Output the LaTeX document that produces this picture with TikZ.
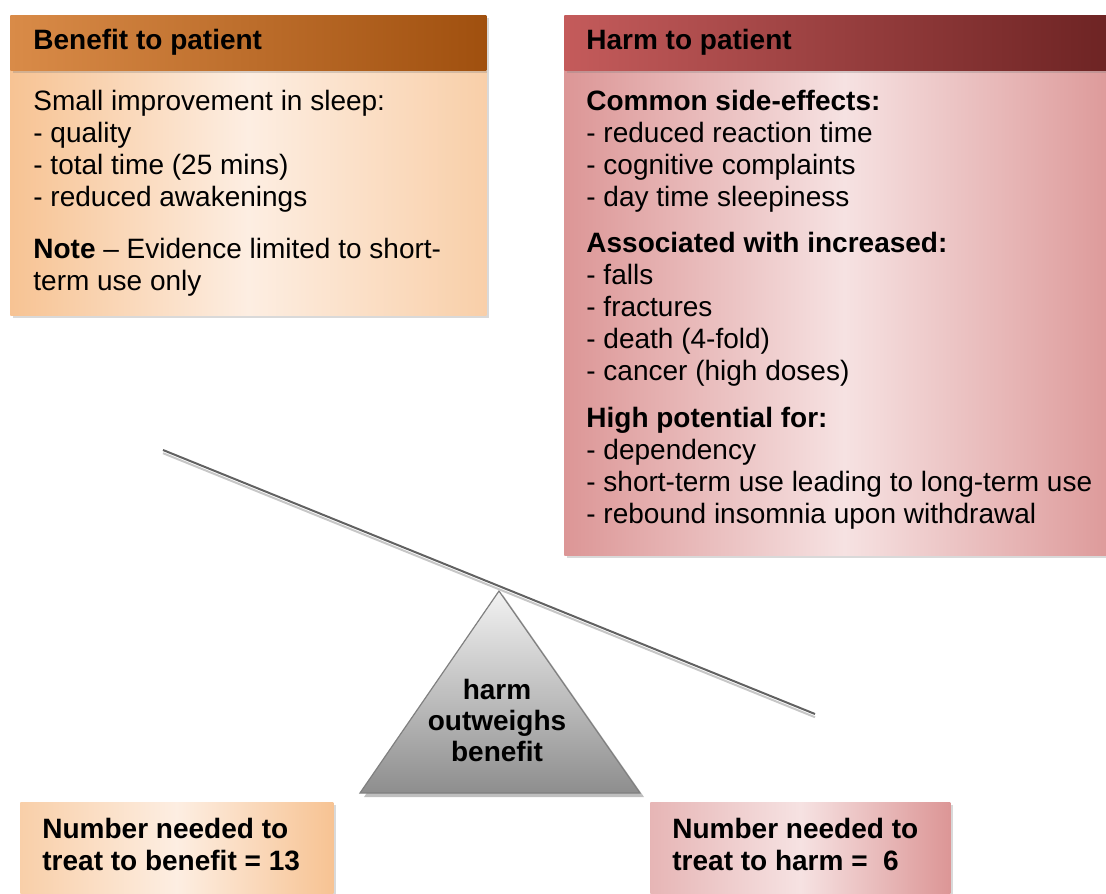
\documentclass[tikz,border=0pt]{standalone}
\usepackage{fontspec}
\setmainfont{Liberation Sans}
\usetikzlibrary{shadows}
\definecolor{benefithdrL}{HTML}{D98B48}
\definecolor{benefithdrR}{HTML}{A0500F}
\definecolor{benefitedge}{HTML}{F7C393}
\definecolor{benefitmid}{HTML}{FDEEE2}
\definecolor{harmhdrL}{HTML}{C45B5B}
\definecolor{harmhdrR}{HTML}{6B2222}
\definecolor{harmedge}{HTML}{DC9696}
\definecolor{harmmid}{HTML}{F6E2E2}
\definecolor{pivottop}{HTML}{F2F2F2}
\definecolor{pivotbot}{HTML}{8E8E8E}

\begin{document}
\begin{tikzpicture}[x=0.5pt, y=-0.5pt,
    panel/.style={rectangle, anchor=north west, inner sep=0pt,
        drop shadow={opacity=0.3, shadow xshift=1.5pt, shadow yshift=-1.5pt}},
    headtext/.style={anchor=west, inner sep=0pt, font=\bfseries\fontsize{14}{16}\selectfont},
    bodytext/.style={anchor=north west, inner sep=0pt, align=left, font=\fontsize{14}{16}\selectfont},
    nnttext/.style={anchor=north west, inner sep=0pt, align=left, font=\bfseries\fontsize{14}{16}\selectfont}]
        \useasboundingbox (0,0) rectangle (1106,893);

        % Panels
        \node [panel, left color = benefitedge, right color = benefitedge!80, middle color = benefitmid,
               minimum width = 238pt, minimum height = 122.5pt] (benefitbody) at (10,70) {};
        \node [panel, left color = benefithdrL, right color = benefithdrR,
               minimum width = 238pt, minimum height = 27.5pt] (benefithead) at (10,15) {};
        \node [panel, left color = harmedge, right color = harmedge, middle color = harmmid,
               minimum width = 280pt, minimum height = 242.5pt] (harmbody) at (564,70) {};
        \node [panel, left color = harmhdrL, right color = harmhdrR,
               minimum width = 280pt, minimum height = 27.5pt] (harmhead) at (564,15) {};
        \node [panel, left color = benefitedge!80, right color = benefitedge, middle color = benefitmid,
               minimum width = 156.5pt, minimum height = 54pt] (benefitnnt) at (20,802) {};
        \node [panel, left color = harmedge!70, right color = harmedge, middle color = harmmid,
               minimum width = 150pt, minimum height = 54pt] (harmnnt) at (650,802) {};

        % Titles
        \node [headtext] (benefittitle) at (33,42) {Benefit to patient};
        \node [headtext] (harmtitle) at (586,42) {Harm to patient};

        % Lists
        \node [bodytext] (benefitlist) at (33,90) {Small improvement in sleep:\\
            - quality\\
            - total time (25 mins)\\
            - reduced awakenings\\[10pt]
            \textbf{Note} – Evidence limited to short-\\
            term use only};
        \node [bodytext] (harmlist) at (586,90) {\textbf{Common side-effects:}\\
            - reduced reaction time\\
            - cognitive complaints\\
            - day time sleepiness\\[7pt]
            \textbf{Associated with increased:}\\
            - falls\\
            - fractures\\
            - death (4-fold)\\
            - cancer (high doses)\\[7.5pt]
            \textbf{High potential for:}\\
            - dependency\\
            - short-term use leading to long-term use\\
            - rebound insomnia upon withdrawal};

        % Numbers needed to treat
        \node [nnttext] (benefitnum) at (42,818) {Number needed to\\treat to benefit = 13};
        \node [nnttext] (harmnum) at (672,818) {Number needed to\\treat to harm = \ 6};

        % Scale
        \coordinate (pivot) at (499,591);
        \coordinate (baseL) at (360,793);
        \coordinate (baseR) at (640,793);
        \coordinate (beamL) at (163,450);
        \coordinate (beamR) at (815,714);
        \fill [black, opacity = 0.25] ([xshift=2pt,yshift=-2pt]pivot) -- ([xshift=2pt,yshift=-2pt]baseL)
            -- ([xshift=2pt,yshift=-2pt]baseR) -- cycle;
        \shade [top color = pivottop, bottom color = pivotbot, draw = gray, line width = 0.6pt]
            (pivot) -- (baseL) -- (baseR) -- cycle;
        \node [align = center, inner sep = 0pt, font = \bfseries\fontsize{14}{15.5}\selectfont]
            (verdict) at (497,720) {harm\\outweighs\\benefit};
        \draw [black!22, line width = 1pt] ([yshift=-1.6pt]beamL) -- ([yshift=-1.6pt]beamR);
        \draw [black!62, line width = 1pt] (beamL) -- (beamR);

    \end{tikzpicture}
\end{document}
